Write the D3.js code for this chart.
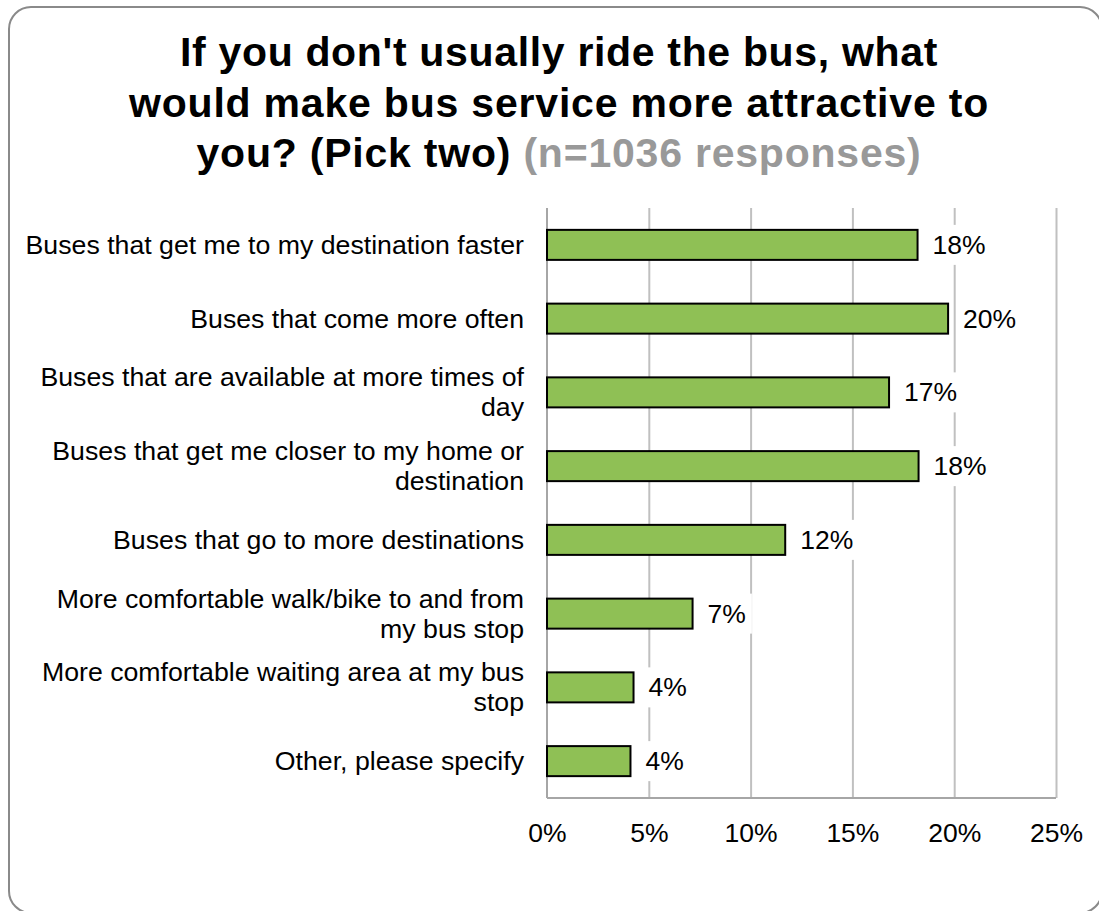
<!DOCTYPE html>
<html>
<head>
<meta charset="utf-8">
<script src="https://cdn.jsdelivr.net/npm/d3@7"></script>
<style>
  body { margin: 0; background: #fff; }
  svg { display: block; font-family: "Liberation Sans", Arial, sans-serif; }
</style>
</head>
<body>
<div id="chart"></div>
<script>
// chart data
const categories = [
  'Buses that get me to my destination faster',
  'Buses that come more often',
  'Buses that are available at more times of\nday',
  'Buses that get me closer to my home or\ndestination',
  'Buses that go to more destinations',
  'More comfortable walk/bike to and from\nmy bus stop',
  'More comfortable waiting area at my bus\nstop',
  'Other, please specify'
];
const values = [18.2, 19.7, 16.8, 18.25, 11.7, 7.15, 4.25, 4.1];
const valueLabels = ['18%', '20%', '17%', '18%', '12%', '7%', '4%', '4%'];
const xTicks = [0, 5, 10, 15, 20, 25];
const titleLines = [
  [{t: "If you don't usually ride the bus, what", c: '#000'}],
  [{t: 'would make bus service more attractive to', c: '#000'}],
  [{t: 'you? (Pick two) ', c: '#000'}, {t: '(n=1036 responses)', c: '#999999'}]
];
const titleWidths = [758, 860, 725];

const W = 1099, H = 911;
const margin = {top: 208, bottom: 113, left: 547, right: 43};
const width = W - margin.left - margin.right;
const height = H - margin.top - margin.bottom;

const svg = d3.select('#chart').append('svg').attr('width', W).attr('height', H);

// outer rounded frame (bottom/right edges run off the canvas)
svg.append('rect')
  .attr('x', 9).attr('y', 7).attr('width', 1093).attr('height', 906)
  .attr('rx', 22).attr('ry', 22)
  .attr('fill', '#fff').attr('stroke', '#8a8a8a').attr('stroke-width', 2);

// title
const title = svg.append('g').attr('class', 'title');
titleLines.forEach((line, i) => {
  const t = title.append('text')
    .attr('x', 559).attr('y', 66 + i * 50.5)
    .attr('text-anchor', 'middle')
    .style('font-size', '41px').style('font-weight', 'bold');
  line.forEach(s => t.append('tspan').attr('fill', s.c).text(s.t));
  const n = line.map(s => s.t).join('').length;
  const w = t.node().getComputedTextLength();
  t.style('letter-spacing', ((titleWidths[i] - w) / n) + 'px');
});

const xScale = d3.scaleLinear().domain([0, 25]).range([0, width]);
const yScale = d3.scaleBand().domain(categories).range([0, height])
  .paddingInner(0.593).paddingOuter(0.2965);

const chart = svg.append('g').attr('transform', `translate(${margin.left}, ${margin.top})`);

// gridlines
chart.append('g').attr('class', 'grid')
  .call(d3.axisBottom(xScale).tickValues(xTicks.slice(1)).tickSize(height).tickFormat(''))
  .call(g => g.select('.domain').remove())
  .selectAll('line').attr('stroke', '#c0c0c0').attr('stroke-width', 2);

// axis lines
chart.append('line').attr('x1', 0).attr('x2', width).attr('y1', height).attr('y2', height)
  .attr('stroke', '#a6a6a6').attr('stroke-width', 2);
chart.append('line').attr('x1', 0).attr('x2', 0).attr('y1', 0).attr('y2', height)
  .attr('stroke', '#a6a6a6').attr('stroke-width', 2);

// x axis labels
chart.append('g').attr('transform', `translate(0, ${height})`)
  .call(d3.axisBottom(xScale).tickValues(xTicks).tickSize(0).tickPadding(0).tickFormat(d => d + '%'))
  .call(g => g.select('.domain').remove())
  .selectAll('text')
  .attr('y', 44).attr('dy', null)
  .style('font-size', '26.5px').style('font-family', '"Liberation Sans", Arial, sans-serif')
  .attr('fill', '#000');

// y axis labels
const yAxis = chart.append('g')
  .call(d3.axisLeft(yScale).tickSize(0).tickPadding(0).tickFormat(''))
  .call(g => g.select('.domain').remove());
yAxis.selectAll('.tick').each(function(d) {
  const lines = d.split('\n');
  const lh = 30;
  const t = d3.select(this).select('text')
    .attr('x', -23).attr('dy', null).attr('y', 0)
    .attr('text-anchor', 'end')
    .style('font-size', '26.7px').style('font-family', '"Liberation Sans", Arial, sans-serif')
    .attr('fill', '#000');
  lines.forEach((l, i) => {
    t.append('tspan').attr('x', -23)
      .attr('y', (i - (lines.length - 1) / 2) * lh + 9)
      .text(l);
  });
});

// bars
const rows = categories.map((c, i) => ({cat: c, value: values[i], label: valueLabels[i]}));

chart.selectAll('.bar').data(rows).enter()
  .append('rect').attr('class', 'bar')
  .attr('x', 0)
  .attr('y', d => yScale(d.cat))
  .attr('width', d => xScale(d.value))
  .attr('height', yScale.bandwidth())
  .attr('fill', '#8fc055').attr('stroke', '#000').attr('stroke-width', 2);

// data labels with white box behind
const lbl = chart.selectAll('.lbl').data(rows).enter()
  .append('g').attr('class', 'lbl')
  .attr('transform', d => `translate(${xScale(d.value) + 15}, ${yScale(d.cat) + yScale.bandwidth() / 2})`);
lbl.append('text')
  .attr('y', 9)
  .style('font-size', '26.5px')
  .attr('fill', '#000')
  .text(d => d.label);
lbl.each(function() {
  const g = d3.select(this);
  const w = g.select('text').node().getComputedTextLength();
  g.insert('rect', 'text').attr('x', -6).attr('y', -20).attr('width', w + 12).attr('height', 40).attr('fill', '#fff');
});
</script>
</body>
</html>
